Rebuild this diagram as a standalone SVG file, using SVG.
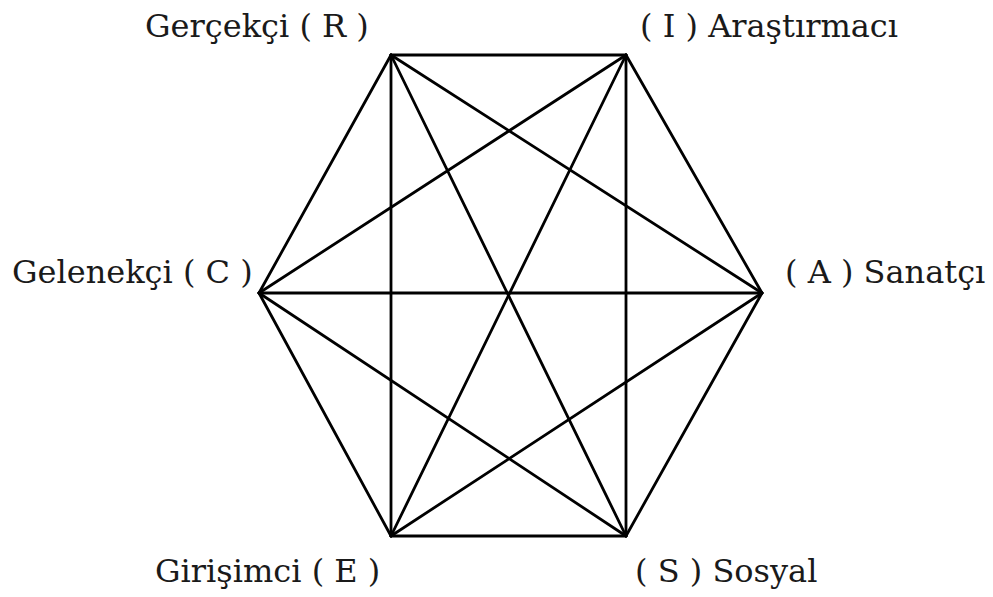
<svg xmlns="http://www.w3.org/2000/svg" width="993" height="597" viewBox="0 0 993 597">
<style>
.lbl{font-family:"DejaVu Serif","Liberation Serif",serif;font-size:32px;fill:#1a1a1a}
.e{stroke:#000;stroke-width:2.8;fill:none;stroke-linecap:round}
</style>
<rect width="993" height="597" fill="#fff"/>
<g id="connectors">
<line class="e" x1="391" y1="55" x2="626" y2="55"/>
<line class="e" x1="391" y1="55" x2="762" y2="293"/>
<line class="e" x1="391" y1="55" x2="626" y2="536"/>
<line class="e" x1="391" y1="55" x2="391" y2="536"/>
<line class="e" x1="391" y1="55" x2="259" y2="293"/>
<line class="e" x1="626" y1="55" x2="762" y2="293"/>
<line class="e" x1="626" y1="55" x2="626" y2="536"/>
<line class="e" x1="626" y1="55" x2="391" y2="536"/>
<line class="e" x1="626" y1="55" x2="259" y2="293"/>
<line class="e" x1="762" y1="293" x2="626" y2="536"/>
<line class="e" x1="762" y1="293" x2="391" y2="536"/>
<line class="e" x1="762" y1="293" x2="259" y2="293"/>
<line class="e" x1="626" y1="536" x2="391" y2="536"/>
<line class="e" x1="626" y1="536" x2="259" y2="293"/>
<line class="e" x1="391" y1="536" x2="259" y2="293"/>
</g>
<g id="R"><text class="lbl" x="145" y="37">Gerçekçi ( R )</text></g>
<g id="I"><text class="lbl" x="640" y="37">( I ) Araştırmacı</text></g>
<g id="C"><text class="lbl" x="12" y="283">Gelenekçi ( C )</text></g>
<g id="A"><text class="lbl" x="785" y="283">( A ) Sanatçı</text></g>
<g id="E"><text class="lbl" x="155" y="582">Girişimci ( E )</text></g>
<g id="S"><text class="lbl" x="635" y="582">( S ) Sosyal</text></g>
</svg>
